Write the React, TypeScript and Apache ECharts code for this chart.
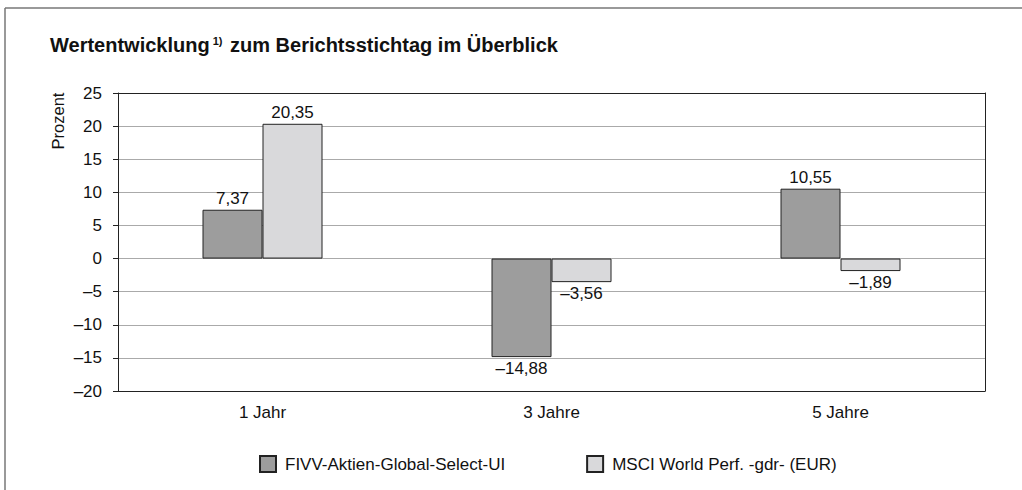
import React, { useEffect, useRef } from "react";
import * as echarts from "echarts";

const categories = ["1 Jahr", "3 Jahre", "5 Jahre"];
const fundName = "FIVV-Aktien-Global-Select-UI";
const indexName = "MSCI World Perf. -gdr- (EUR)";
const fundValues = [7.37, -14.88, 10.55];
const indexValues = [20.35, -3.56, -1.89];
const yMin = -20;
const yMax = 25;
const yInterval = 5;

const FONT = "'Liberation Sans', Arial, Helvetica, sans-serif";
const FS = 17;

const fmt = (v: number, digits = 2) =>
  v.toFixed(digits).replace(".", ",").replace("-", "\u2013");

const toItems = (vals: number[]) =>
  vals.map((v) => ({
    value: v,
    label: { position: v < 0 ? "bottom" : "top" },
  }));

export default function App() {
  const ref = useRef<HTMLDivElement>(null);
  useEffect(() => {
    if (!ref.current) return;
    const chart = echarts.init(ref.current, null, { renderer: "svg" });
    const labelCommon = {
      show: true,
      distance: 3,
      color: "#111",
      fontSize: FS,
      fontFamily: FONT,
      formatter: (p: any) => fmt(p.value),
    };
    chart.setOption({
      animation: false,
      backgroundColor: "#fff",
      textStyle: { fontFamily: FONT },
      grid: { left: 118, right: 37, top: 93, bottom: 99, containLabel: false },
      legend: {
        left: 254,
        top: 450,
        icon: "rect",
        itemWidth: 16,
        itemHeight: 16,
        itemGap: 81,
        textStyle: {
          fontSize: FS,
          color: "#111",
          fontFamily: FONT,
          padding: [0, 0, 0, 4],
        },
        data: [fundName, indexName],
      },
      graphic: [
        {
          type: "line",
          shape: { x1: 5, y1: 8, x2: 1022, y2: 8 },
          style: { stroke: "#777", lineWidth: 1.5 },
        },
        {
          type: "line",
          shape: { x1: 5, y1: 8, x2: 5, y2: 490 },
          style: { stroke: "#777", lineWidth: 1.5 },
        },
        {
          type: "text",
          left: 50,
          top: 35,
          style: {
            text: "{b|Wertentwicklung}{s| 1)}{b| zum Berichtsstichtag im Überblick}",
            rich: {
              b: { fontSize: 20, fontWeight: "bold", fontFamily: FONT, fill: "#111" },
              s: {
                fontSize: 11,
                fontWeight: "bold",
                fontFamily: FONT,
                fill: "#111",
                verticalAlign: "top",
                padding: [0, 2, 9, 0],
              },
            },
          },
        },
        {
          type: "text",
          x: 58,
          y: 121,
          rotation: Math.PI / 2,
          style: {
            text: "Prozent",
            fontSize: 16.5,
            fontFamily: FONT,
            fill: "#111",
            align: "center",
            verticalAlign: "middle",
          },
        },
      ],
      xAxis: [
        {
          type: "category",
          data: categories,
          position: "bottom",
          axisLine: { show: true, onZero: false, lineStyle: { color: "#222", width: 1 } },
          axisTick: { show: false },
          axisLabel: { fontSize: FS, color: "#111", margin: 13, fontFamily: FONT },
          splitLine: { show: false },
        },
        {
          type: "category",
          data: categories,
          position: "top",
          axisLine: { show: true, onZero: false, lineStyle: { color: "#222", width: 1 } },
          axisTick: { show: false },
          axisLabel: { show: false },
        },
      ],
      yAxis: [
        {
          type: "value",
          min: yMin,
          max: yMax,
          interval: yInterval,
          axisLine: { show: true, lineStyle: { color: "#222", width: 1 } },
          axisTick: { show: true, length: 5, lineStyle: { color: "#222" } },
          axisLabel: {
            fontSize: FS,
            color: "#111",
            margin: 16,
            fontFamily: FONT,
            formatter: (v: number) => fmt(v, 0),
          },
          splitLine: { show: true, lineStyle: { color: "#aaa", width: 1 } },
        },
        {
          type: "value",
          min: yMin,
          max: yMax,
          interval: yInterval,
          position: "right",
          axisLine: { show: true, lineStyle: { color: "#222", width: 1 } },
          axisTick: { show: false },
          axisLabel: { show: false },
          splitLine: { show: false },
        },
      ],
      series: [
        {
          name: fundName,
          type: "bar",
          data: toItems(fundValues),
          barWidth: 60,
          barGap: "0%",
          itemStyle: { color: "#9d9d9d", borderColor: "#222", borderWidth: 1 },
          label: labelCommon,
        },
        {
          name: indexName,
          type: "bar",
          data: toItems(indexValues),
          barWidth: 60,
          barGap: "0%",
          itemStyle: { color: "#d9d9db", borderColor: "#222", borderWidth: 1 },
          label: labelCommon,
        },
      ],
    });
    return () => chart.dispose();
  }, []);
  return (
    <div
      ref={ref}
      style={{ position: "fixed", left: 0, top: 0, width: 1022, height: 490 }}
    />
  );
}
